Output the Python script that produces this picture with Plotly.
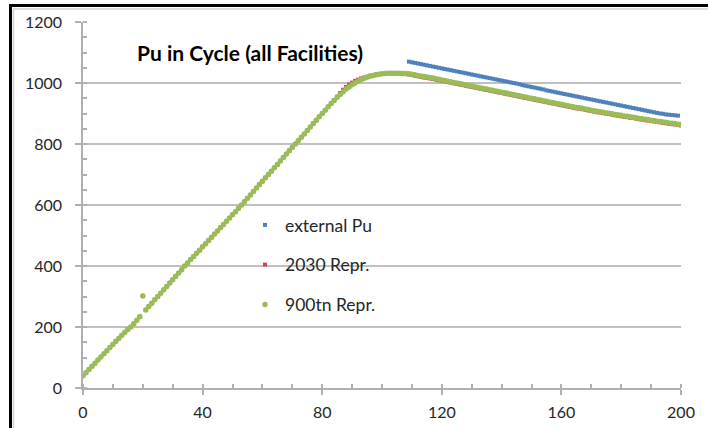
import plotly.graph_objects as go

# ---------------- data ----------------
years_all = list(range(0, 201))

green_900tn = [
    40, 50, 61, 71, 81, 92, 102, 112, 122, 133, 143, 153, 163, 173, 183, 192, 200,
    211, 222, 234, 302, 256, 267, 278, 289, 300, 311, 322, 333, 344, 355, 366, 377, 388, 400,
    410, 421, 431, 442, 452, 463, 473, 484, 494, 505, 515, 526, 536, 547, 557, 568, 578, 589, 600,
    611, 622, 633, 644, 656, 667, 678, 689, 700, 711, 722, 733, 744, 756, 767, 778, 789, 800,
    811, 822, 833, 844, 856, 867, 878, 889, 900, 911, 922, 933, 943, 953, 962, 971, 980, 987,
    994, 1000, 1006, 1011, 1015, 1019, 1022, 1025, 1027, 1029, 1030, 1031, 1032, 1032, 1032,
    1032, 1032, 1031, 1031, 1030, 1029,
    1027, 1025, 1023, 1021, 1020, 1018, 1016, 1014, 1012, 1010,
    1008, 1006, 1004, 1002, 1000, 998, 996, 994, 992, 990,
    988, 986, 984, 982, 980, 978, 976, 974, 972, 970,
    968, 966, 964, 962, 960, 958, 956, 954, 952, 950,
    948, 946, 944, 942, 940, 938, 936, 934, 932, 930,
    928, 926, 924, 922, 920, 919, 917, 915, 913, 911,
    909, 907, 906, 904, 902, 901, 899, 897, 896, 894,
    892, 891, 889, 888, 886, 884, 883, 881, 880, 878,
    877, 875, 874, 872, 871, 869, 868, 867, 865, 864,
]

red_2030 = [
    40, 50, 61, 71, 81, 92, 102, 112, 122, 133, 143, 153, 163, 173, 183, 192, 200,
    211, 222, 234, 302, 256, 267, 278, 289, 300, 311, 322, 333, 344, 355, 366, 377, 388, 400,
    410, 421, 431, 442, 452, 463, 473, 484, 494, 505, 515, 526, 536, 547, 557, 568, 578, 589, 600,
    611, 622, 633, 644, 656, 667, 678, 689, 700, 711, 722, 733, 744, 756, 767, 778, 789, 800,
    811, 822, 833, 844, 856, 867, 878, 889, 900, 911, 922, 933, 944, 955, 967, 978, 987, 995,
    1001, 1007, 1011, 1015, 1018, 1021, 1024, 1026, 1028, 1029, 1030, 1031, 1032, 1032, 1032,
    1032, 1031, 1030, 1029, 1028, 1026,
    1024, 1022, 1020, 1018, 1017, 1015, 1013, 1011, 1009, 1007,
    1005, 1003, 1001, 999, 997, 995, 993, 991, 989, 987,
    985, 983, 981, 979, 977, 975, 973, 971, 969, 967,
    965, 963, 961, 959, 957, 955, 953, 951, 949, 947,
    945, 943, 941, 939, 937, 935, 933, 931, 929, 927,
    925, 923, 921, 919, 917, 916, 914, 912, 910, 908,
    906, 904, 903, 901, 899, 898, 896, 894, 893, 891,
    889, 888, 886, 885, 883, 881, 880, 878, 877, 875,
    874, 872, 871, 869, 868, 866, 865, 864, 862, 861,
]

years_ext = list(range(109, 201))
blue_external = [
    1070,
    1068, 1066, 1064, 1062, 1060, 1058, 1056, 1054, 1052, 1050,
    1048, 1046, 1044, 1042, 1040, 1038, 1036, 1034, 1032, 1030,
    1028, 1026, 1024, 1022, 1020, 1018, 1016, 1014, 1012, 1010,
    1008, 1006, 1004, 1002, 1000, 998, 996, 993, 991, 989,
    987, 985, 983, 981, 979, 976, 974, 972, 970, 968,
    966, 964, 962, 960, 958, 956, 954, 952, 950, 948,
    946, 944, 942, 940, 938, 936, 934, 932, 930, 928,
    926, 924, 922, 920, 918, 916, 914, 912, 910, 908,
    906, 904, 902, 900, 899, 897, 896, 895, 894, 893,
][:92]

series_names = ["external Pu", "2030 Repr.", "900tn Repr."]
series_colors = ["#4F81BD", "#C0504D", "#9BBB59"]

title_text = "Pu in Cycle (all Facilities)"
x_ticks = [0, 40, 80, 120, 160, 200]
y_ticks = [0, 200, 400, 600, 800, 1000, 1200]

FONT = "Lato"
TXT = "#262626"

fig = go.Figure()
fig.add_trace(go.Scatter(
    x=years_ext, y=blue_external, mode="markers", name=series_names[0],
    legendgroup="a",
    marker=dict(symbol="square", size=4, color=series_colors[0], line=dict(width=0)),
))
fig.add_trace(go.Scatter(
    x=years_all, y=red_2030, mode="markers", name=series_names[1],
    legendgroup="b",
    marker=dict(symbol="square", size=4, color=series_colors[1], line=dict(width=0)),
))
fig.add_trace(go.Scatter(
    x=years_all, y=green_900tn, mode="markers", name=series_names[2],
    legendgroup="c",
    marker=dict(symbol="circle", size=5.5, color=series_colors[2], line=dict(width=0)),
))

W, H = 708, 428
L, R, T, B = 83, 27, 22, 40
PW, PH = W - L - R, H - T - B


def px(xp):
    return (xp - L) / PW


def py(yp):
    return (H - B - yp) / PH


shapes = [
    # outer black frame (top and left)
    dict(type="line", xref="paper", yref="paper", x0=px(9), x1=px(W + 5), y0=py(5.5), y1=py(5.5),
         line=dict(color="#000000", width=3)),
    dict(type="line", xref="paper", yref="paper", x0=px(10.5), x1=px(10.5), y0=py(4), y1=py(H + 5),
         line=dict(color="#000000", width=3)),
    # light chart-area border
    dict(type="line", xref="paper", yref="paper", x0=px(13), x1=px(W + 5), y0=py(9), y1=py(9),
         line=dict(color="#d0d0d0", width=1.5)),
    dict(type="line", xref="paper", yref="paper", x0=px(13.5), x1=px(13.5), y0=py(9), y1=py(H + 5),
         line=dict(color="#d0d0d0", width=1.5)),
]

fig.update_layout(
    width=W, height=H,
    margin=dict(l=L, r=R, t=T, b=B, pad=0, autoexpand=False),
    paper_bgcolor="white", plot_bgcolor="white",
    font=dict(family=FONT, size=15, color=TXT),
    showlegend=True,
    legend=dict(
        x=px(245), y=py(207), xanchor="left", yanchor="top",
        bgcolor="rgba(0,0,0,0)", borderwidth=0,
        font=dict(family=FONT, size=17.5, color=TXT),
        traceorder="grouped", tracegroupgap=14,
    ),
    shapes=shapes,
    annotations=[dict(
        text="<b>" + title_text + "</b>", xref="paper", yref="paper",
        x=px(250), y=py(53), xanchor="center", yanchor="middle", showarrow=False,
        font=dict(family=FONT, size=21, color="#000000"),
    )],
    xaxis=dict(
        range=[0, 200], tickvals=x_ticks, showgrid=False, zeroline=False, automargin=False,
        showline=True, linecolor="#b0b0b0", linewidth=1.5,
        ticks="outside", ticklen=5, tickcolor="#b0b0b0", tickwidth=1.5,
        ticklabelstandoff=4,
        minor=dict(ticks="inside", ticklen=4, dtick=10, tickcolor="#b0b0b0", showgrid=False),
        tickfont=dict(family=FONT, size=16, color=TXT),
    ),
    yaxis=dict(
        range=[0, 1200], tickvals=y_ticks, showgrid=True, gridcolor="#c0c0c0", gridwidth=1.5,
        zeroline=False, showline=True, linecolor="#b0b0b0", linewidth=1.5, automargin=False,
        ticks="outside", ticklen=6, tickcolor="#b0b0b0", tickwidth=1.5,
        ticklabelstandoff=10,
        minor=dict(ticks="inside", ticklen=4, dtick=50, tickcolor="#b0b0b0", showgrid=False),
        tickfont=dict(family=FONT, size=16, color=TXT),
    ),
)

fig.write_html("out.html", config={"displayModeBar": False},
               post_script="document.body.style.margin='0px';")
